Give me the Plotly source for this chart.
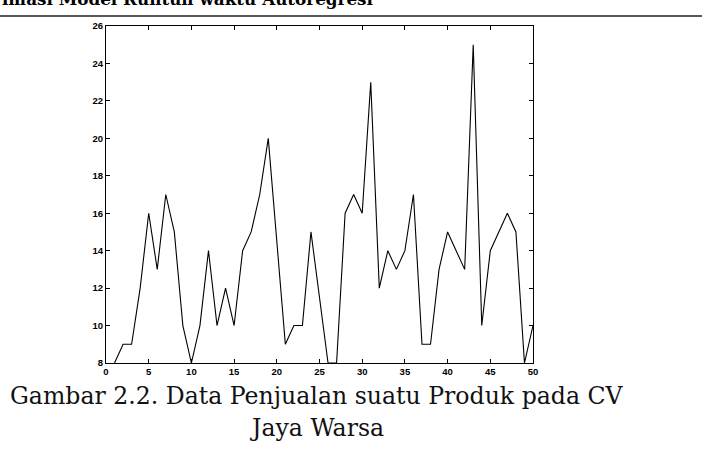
import plotly.graph_objects as go

period = list(range(1, 51))
sales = [8, 9, 9, 12, 16, 13, 17, 15, 10, 8,
         10, 14, 10, 12, 10, 14, 15, 17, 20, 14.5,
         9, 10, 10, 15, 11.5, 8, 8, 16, 17, 16,
         23, 12, 14, 13, 14, 17, 9, 9, 13, 15,
         14, 13, 25, 10, 14, 15, 16, 15, 8, 10]
x_ticks = [0, 5, 10, 15, 20, 25, 30, 35, 40, 45, 50]
y_ticks = [8, 10, 12, 14, 16, 18, 20, 22, 24, 26]

header = "imasi Model Runtun waktu Autoregresi"
caption1 = "Gambar 2.2. Data Penjualan suatu Produk pada CV"
caption2 = "Jaya Warsa"

W, H = 702, 456
L, R, T, B = 106, 169, 26, 93
pw, ph = W - L - R, H - T - B

def px(x):
    return (x - L) / pw

def py(y):
    return (H - B - y) / ph

fig = go.Figure()
fig.add_trace(go.Scatter(x=period, y=sales, mode="lines",
                         line=dict(color="black", width=1.1),
                         showlegend=False, cliponaxis=True))

tickfont = dict(family="Liberation Sans", size=9.5, color="black", weight="bold")
axis_common = dict(showgrid=False, zeroline=False, showline=True, linecolor="black",
                   linewidth=1, mirror="ticks", ticks="inside", ticklen=4,
                   tickcolor="black", tickwidth=1, tickfont=tickfont)
fig.update_xaxes(range=[0, 50], tickvals=x_ticks, **axis_common)
fig.update_yaxes(range=[8, 26], tickvals=y_ticks, **axis_common)

fig.add_shape(type="line", xref="paper", yref="paper",
              x0=px(0), x1=px(W), y0=py(16), y1=py(16),
              line=dict(color="#222222", width=1.3))

fig.add_annotation(text=header, xref="paper", yref="paper", x=px(0), y=py(-0.5),
                   xanchor="left", yanchor="middle", showarrow=False,
                   font=dict(family="DejaVu Serif", size=16.8, color="black", weight="bold"))
fig.add_annotation(text=caption1, xref="paper", yref="paper", x=px(317), y=py(396),
                   xanchor="center", yanchor="middle", showarrow=False,
                   font=dict(family="DejaVu Serif", size=23.6, color="#111111"))
fig.add_annotation(text=caption2, xref="paper", yref="paper", x=px(317), y=py(428),
                   xanchor="center", yanchor="middle", showarrow=False,
                   font=dict(family="DejaVu Serif", size=23.6, color="#111111"))

fig.update_layout(width=W, height=H, margin=dict(l=L, r=R, t=T, b=B),
                  plot_bgcolor="white", paper_bgcolor="white")
fig.write_html("out.html")
